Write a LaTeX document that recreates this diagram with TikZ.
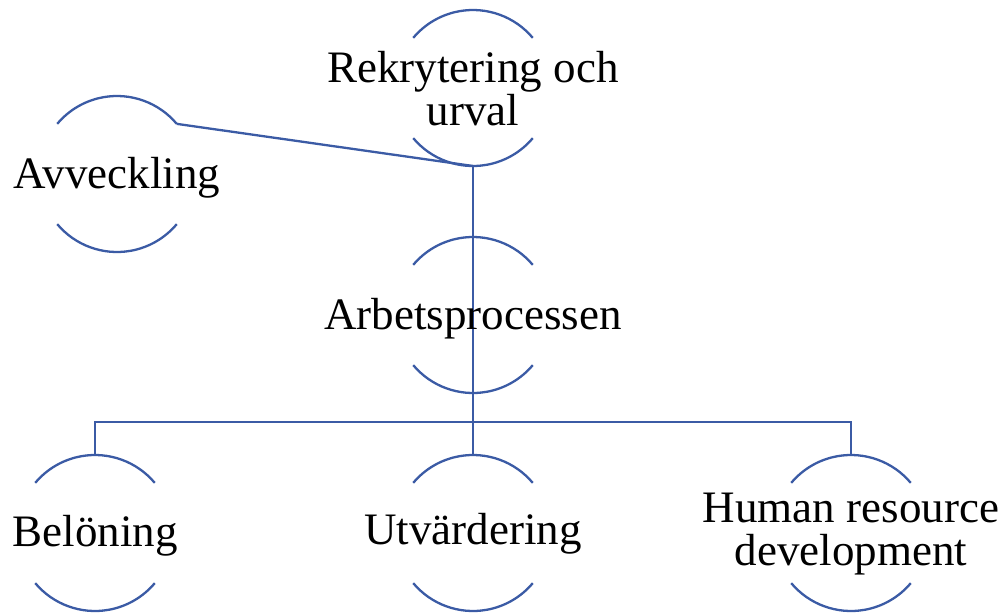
\documentclass[tikz,border=0pt]{standalone}
\usepackage{fontspec}
\setmainfont{Liberation Serif}
\definecolor{hrblue}{RGB}{59,91,165}
\begin{document}
\begin{tikzpicture}[x=1pt,y=-1pt,
  ring/.style={circle, minimum size=156pt, inner sep=0pt, outer sep=0pt, draw=none},
  lbl/.style={font=\fontsize{45}{43}\selectfont, inner sep=0pt, align=center},
  link/.style={draw=hrblue, line width=2.3pt},
]
\useasboundingbox (0,0) rectangle (1005,614);

% circles (only their top and bottom arcs are drawn)
\node[ring] (rek) at (473,88)  {};
\node[ring] (avv) at (117,174) {};
\node[ring] (arb) at (473,315) {};
\node[ring] (bel) at (95,533)  {};
\node[ring] (utv) at (473,533) {};
\node[ring] (hrd) at (851,533) {};

\foreach \n in {rek,avv,arb,bel,utv,hrd} {
  \draw[link] (\n.40) arc[start angle=40, end angle=140, radius=78pt];
  \draw[link] (\n.220) arc[start angle=220, end angle=320, radius=78pt];
}

% connectors
\coordinate (bar) at (473,422);
\draw[link] (avv.40) -- (rek.south);
\draw[link] (rek.south) -- (utv.north);
\draw[link] (bel.north) -- (bel.north |- bar) -- (hrd.north |- bar) -- (hrd.north);

% labels
\node[lbl] (rekt) at ([yshift=-1pt]rek.center) {Rekrytering och\\urval};
\node[lbl, anchor=base] (avvt) at ([yshift=-14pt]avv.center) {Avveckling};
\node[lbl, anchor=base] (arbt) at ([yshift=-14pt]arb.center) {Arbetsprocessen};
\node[lbl, anchor=base] (belt) at ([yshift=-13pt]bel.center) {Belöning};
\node[lbl, anchor=base] (utvt) at ([yshift=-11pt]utv.center) {Utvärdering};
\node[lbl] (hrdt) at ([yshift=-1pt]hrd.center) {Human resource\\development};
\end{tikzpicture}
\end{document}
